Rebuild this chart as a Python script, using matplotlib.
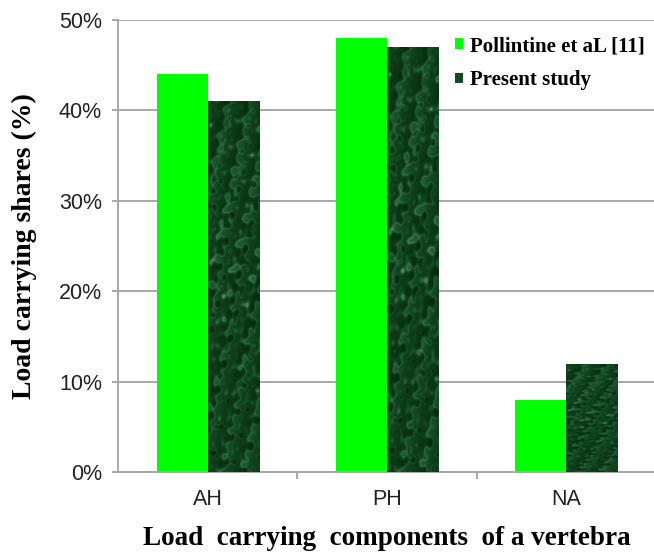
import numpy as np
import matplotlib.pyplot as plt
from matplotlib.colors import LinearSegmentedColormap
from matplotlib.ticker import FixedLocator

categories = ['AH', 'PH', 'NA']
pollintine = [44, 48, 8]
present = [41, 47, 12]
yticks = [0, 10, 20, 30, 40, 50]
ytick_labels = ['0%', '10%', '20%', '30%', '40%', '50%']

serif = ['Liberation Serif', 'DejaVu Serif']
sans = ['Liberation Sans', 'DejaVu Sans']

fig = plt.figure(figsize=(6.54, 5.55), dpi=100)
ax = fig.add_axes([118/654, 83/555, 538/654, 452/555])

x = np.arange(len(categories))
w = 0.285
b1 = ax.bar(x - w/2, pollintine, w, color='#00ff00', label='Pollintine et aL [11]', zorder=2)
b2 = ax.bar(x + w/2, present, w, color='#124a24', label='Present study', zorder=2)

# mottled marble texture on the dark bars (decoration, not data)
gx, gy = np.meshgrid(np.linspace(0, 5, 150), np.linspace(0, 40, 900))
waves = [(3.1, 0.7, 0.3), (1.3, -1.9, 1.1), (5.7, 1.3, 2.0), (2.2, 2.9, 0.7),
         (7.9, -0.8, 1.6), (4.4, -3.3, 2.7), (9.3, 2.1, 0.2), (0.9, 4.7, 1.9)]
noise = sum(np.sin(a * gx + b * gy + p) / (1 + 0.15 * abs(a)) for a, b, p in waves)
warp = gx * 1.5 + 0.25 * gy + 0.6 * noise
tex = (1 - np.abs(np.sin(warp)) ** 0.3) + 0.12 * noise
marble = LinearSegmentedColormap.from_list('marble', ['#062a0d', '#0f421c', '#2a6a40', '#78a886'])
for r in b2:
    im = ax.imshow(tex, cmap=marble, vmin=-0.35, vmax=1.2,
                   extent=[r.get_x(), r.get_x() + r.get_width(), 0, r.get_height()],
                   aspect='auto', zorder=3, interpolation='bilinear')
    im.set_clip_path(r)

ax.set_xlim(-0.5, 2.5)
ax.set_ylim(0, 50)
ax.set_yticks(yticks)
ax.set_yticklabels(ytick_labels)
ax.set_xticks(x)
ax.set_xticklabels(categories)
ax.xaxis.set_minor_locator(FixedLocator([0.5, 1.5]))
ax.tick_params(axis='x', which='major', length=0, pad=12, labelsize=15.5, labelcolor='#222222')
ax.tick_params(axis='x', which='minor', length=5, color='#a8a8a8', width=1.4)
ax.tick_params(axis='y', length=4.5, color='#a8a8a8', width=1.4, labelsize=15.5,
               labelcolor='#222222', pad=7)
for t in ax.get_xticklabels() + ax.get_yticklabels():
    t.set_family(sans)

ax.grid(axis='y', color='#a8a8a8', linewidth=1.4, zorder=0)
ax.set_axisbelow(True)
for s in ['top', 'right']:
    ax.spines[s].set_visible(False)
for s in ['left', 'bottom']:
    ax.spines[s].set_color('#a8a8a8')
    ax.spines[s].set_linewidth(1.4)

ax.set_ylabel('Load carrying shares (%)', family=serif, fontweight='bold', fontsize=20, labelpad=16)
ax.set_xlabel('Load  carrying  components  of a vertebra', family=serif, fontweight='bold',
              fontsize=19.5, labelpad=12)

ax.legend(loc='upper left', bbox_to_anchor=(455/654, 1 - 36/555), bbox_transform=fig.transFigure,
          frameon=False, prop={'family': serif, 'weight': 'bold', 'size': 15},
          handlelength=0.38, handleheight=0.38, handletextpad=0.35, labelspacing=0.68,
          borderpad=0, borderaxespad=0)

fig.savefig('out.png', dpi=100)
